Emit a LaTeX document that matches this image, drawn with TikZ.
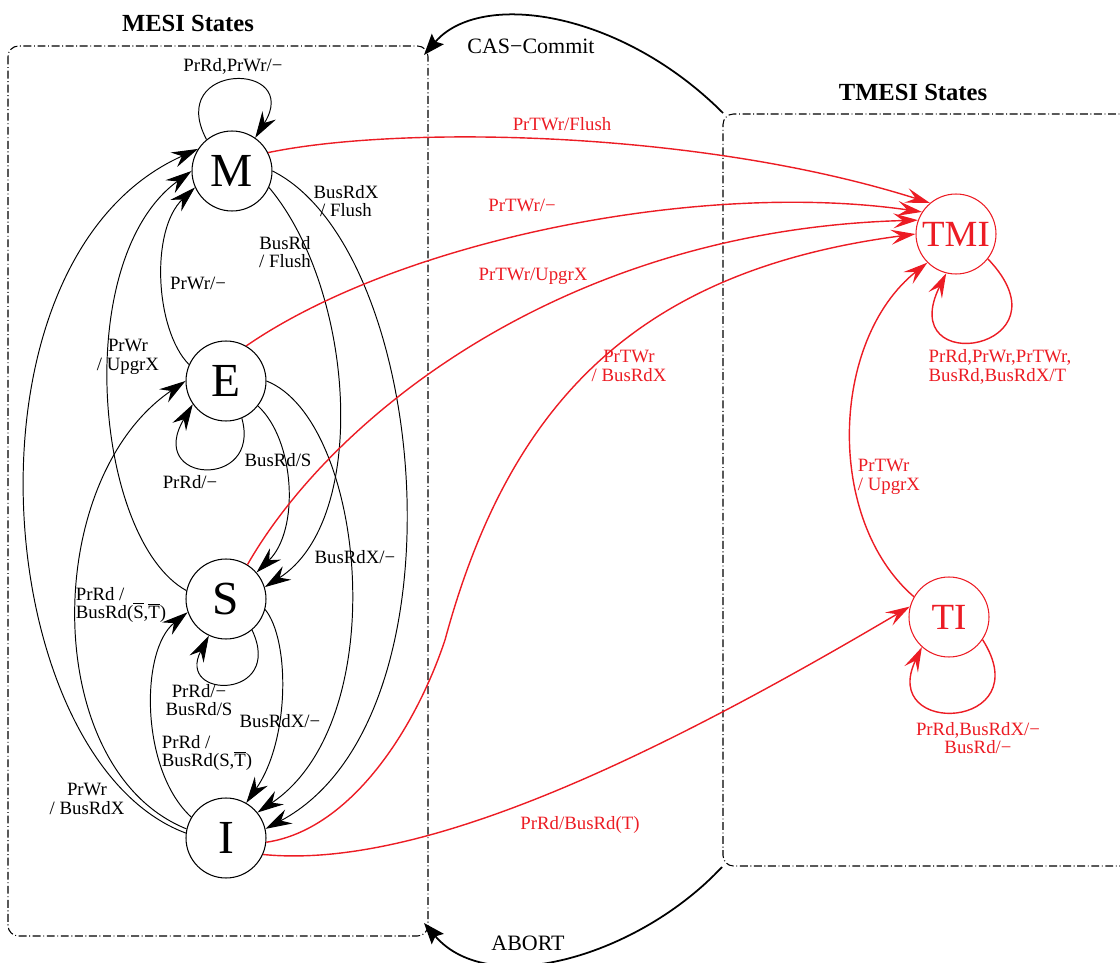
\documentclass[tikz,border=0pt]{standalone}
\usepackage{fontspec}
\setmainfont{Liberation Serif}
\usetikzlibrary{arrows.meta}
\definecolor{tred}{RGB}{236,28,36}
\begin{document}
\begin{tikzpicture}[x=0.02cm,y=-0.02cm,
    state/.style={circle,draw,line width=0.6pt,minimum size=1.6cm,inner sep=0pt,font=\fontsize{27}{30}\selectfont},
    tstate/.style={state,draw=tred,text=tred,font=\fontsize{21}{24}\selectfont},
    lab/.style={font=\fontsize{10.7}{10.5}\selectfont,inner sep=1pt,align=center},
    llab/.style={lab,align=left},
    tlab/.style={lab,text=tred},
    trans/.style={line width=0.55pt,-{Stealth[length=15pt,width=9pt,inset=5pt]}},
    ttrans/.style={draw=tred,line width=0.8pt,-{Stealth[length=14pt,width=8.5pt,inset=5.5pt]}},
    group/.style={line width=0.6pt,rounded corners=6pt,dash pattern=on 4.5pt off 1.5pt on 0.5pt off 1.5pt},
    jump/.style={line width=1pt,-{Stealth[length=12pt,width=9pt,inset=2pt]}},
    jlab/.style={font=\fontsize{12.5}{14}\selectfont},
    title/.style={font=\fontsize{14}{16}\selectfont\bfseries}]
\useasboundingbox (0,0) rectangle (1120,963);

\node[title] (tMESI) at (188,23) {MESI States};
\node[title] (tTMESI) at (913,92) {TMESI States};
\draw[group] (8,46) rectangle (428,936);
\draw[group] (1130,114) -- (723,114) -- (723,866) -- (1130,866);
\coordinate (mesiTR) at (424,55);
\coordinate (mesiBR) at (424,923);
\coordinate (tmesiTL) at (723,113);
\coordinate (tmesiBL) at (722,867);

\node[state] (M) at (232,171) {M};
\node[state] (E) at (226,381) {E};
\node[state] (S) at (226,599) {S};
\node[state] (I) at (226,838) {I};
\node[tstate] (TMI) at (956,234) {TMI};
\node[tstate] (TI) at (949,617) {TI};

\draw[trans] (M.129) .. controls (165,61) and (303,61) .. (M.55);
\draw[trans] (E.156) .. controls (155,330) and (150,230) .. (M.204);
\draw[trans] (S.168) .. controls (95,540) and (70,260) .. (M.180);
\draw[trans] (I.173) .. controls (-10,760) and (-50,260) .. (M.147);
\draw[trans] (I.167) .. controls (40,770) and (40,480) .. (E.180);
\draw[trans] (E.293) .. controls (262,490) and (145,484) .. (E.215);
\draw[trans] (I.149) .. controls (140,770) and (140,650) .. (S.199);
\draw[trans] (S.310) .. controls (285,700) and (175,700) .. (S.245);
\draw[trans] (E.322) .. controls (295,440) and (300,530) .. (S.41);
\draw[trans] (M.336) .. controls (355,290) and (370,520) .. (S.17);
\draw[trans] (M.0) .. controls (430,250) and (470,720) .. (I.13);
\draw[trans] (E.0) .. controls (365,420) and (395,720) .. (I.39);
\draw[trans] (S.345) .. controls (290,640) and (290,740) .. (I.60);

\draw[ttrans] (M.27) .. controls (400,125) and (700,130) .. (TMI.130);
\draw[ttrans] (E.60) .. controls (400,240) and (700,180) .. (TMI.147);
\draw[ttrans] (S.58) .. controls (330,420) and (560,230) .. (TMI.160);
\draw[ttrans] (I.354) .. controls (350,830) and (415,730) .. (445,640)
    .. controls (510,400) and (640,270) .. (TMI.180);
\draw[ttrans] (I.336) .. controls (420,870) and (650,760) .. (TI.165);
\draw[ttrans] (TI.150) .. controls (825,520) and (830,340) .. (TMI.225);
\draw[ttrans] (TMI.322) .. controls (1075,350) and (893,380) .. (TMI.256);
\draw[ttrans] (TI.326) .. controls (1040,730) and (878,738) .. (TI.228);

\draw[jump] (tmesiTL) .. controls (620,10) and (480,-10) .. (mesiTR);
\draw[jump] (tmesiBL) .. controls (640,955) and (490,1000) .. (mesiBR);
\node[jlab] (lCAS) at (531,46) {CAS−Commit};
\node[jlab] (lABORT) at (528,943) {ABORT};

\node[lab] (lMM) at (233,66) {PrRd,PrWr/−};
\node[lab] (lEM) at (198,283) {PrWr/−};
\node[lab] (lSM) at (128,357) {PrWr\\/ UpgrX};
\node[lab] (lIM) at (87,799) {PrWr\\/ BusRdX};
\node[llab] (lIE) at (121,605) {PrRd /\\BusRd(\(\overline{\hbox{S}}\),\(\overline{\hbox{T}}\))};
\node[lab] (lEE) at (190,482) {PrRd/−};
\node[llab] (lIS) at (207,753) {PrRd /\\BusRd(S,\(\overline{\hbox{T}}\))};
\node[lab] (lSS) at (199,700) {PrRd/−\\BusRd/S};
\node[lab] (lES) at (278,460) {BusRd/S};
\node[lab] (lMS) at (285,252) {BusRd\\/ Flush};
\node[lab] (lMI) at (346,201) {BusRdX\\/ Flush};
\node[lab] (lEI) at (355,557) {BusRdX/−};
\node[lab] (lSI) at (280,721) {BusRdX/−};

\node[tlab] (lMT) at (562,124) {PrTWr/Flush};
\node[tlab] (lET) at (522,205) {PrTWr/−};
\node[tlab] (lST) at (533,276) {PrTWr/UpgrX};
\node[tlab] (lIT) at (629,366) {PrTWr\\/ BusRdX};
\node[tlab] (lITI) at (580,825) {PrRd/BusRd(T)};
\node[tlab,align=left] (lTT) at (889,477) {PrTWr\\/ UpgrX};
\node[tlab,align=left] (lTMI) at (1000,367) {PrRd,PrWr,PrTWr,\\BusRd,BusRdX/T};
\node[tlab] (lTI) at (978,738) {PrRd,BusRdX/−\\BusRd/−};
\end{tikzpicture}
\end{document}
